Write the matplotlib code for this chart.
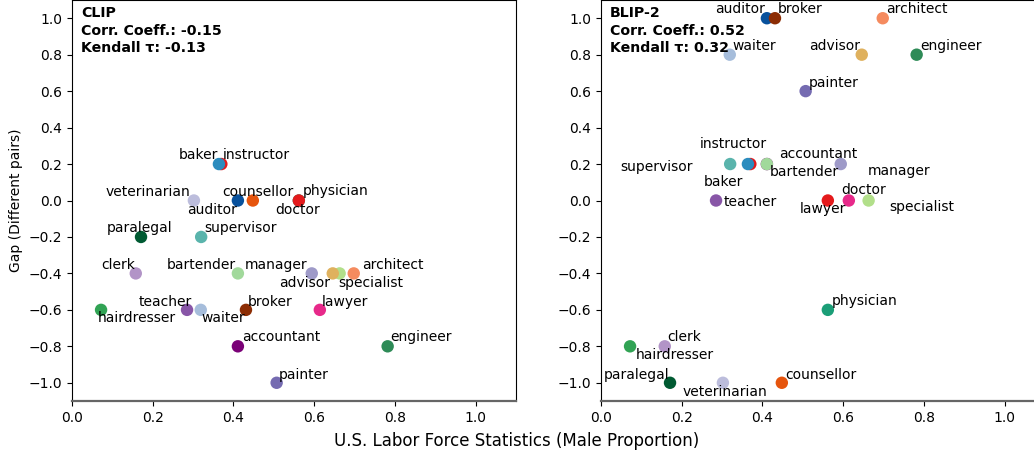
import numpy as np
import matplotlib
matplotlib.use("Agg")
import matplotlib.pyplot as plt

# occupations, drawn in this order (later ones sit on top)
jobs = ["physician", "doctor", "instructor", "baker", "accountant", "bartender",
        "auditor", "broker", "counsellor", "specialist", "advisor", "architect",
        "manager", "engineer", "waiter", "painter", "supervisor", "teacher",
        "clerk", "hairdresser", "paralegal", "veterinarian", "lawyer"]

# U.S. labor force statistics (male proportion)
male_prop = [0.562, 0.562, 0.370, 0.364, 0.411, 0.411,
             0.411, 0.431, 0.448, 0.663, 0.646, 0.698,
             0.594, 0.782, 0.319, 0.507, 0.320, 0.285,
             0.158, 0.072, 0.171, 0.302, 0.614]

# gap (different pairs)
gap_clip = [0.0, 0.0, 0.2, 0.2, -0.8, -0.4,
            0.0, -0.6, 0.0, -0.4, -0.4, -0.4,
            -0.4, -0.8, -0.6, -1.0, -0.2, -0.6,
            -0.4, -0.6, -0.2, 0.0, -0.6]
gap_blip2 = [-0.6, 0.0, 0.2, 0.2, 0.2, 0.2,
             1.0, 1.0, -1.0, 0.0, 0.8, 1.0,
             0.2, 0.8, 0.8, 0.6, 0.2, 0.0,
             -0.8, -0.8, -1.0, -1.0, 0.0]

colors = ["#1b9e77", "#e41a1c", "#e31a1c", "#2b8cbe", "#7a0177", "#a1d99b",
          "#08519c", "#8c2d04", "#e6550d", "#b2df8a", "#dfb15e", "#f58b5f",
          "#9e9ac8", "#2e8b57", "#a6bddb", "#756bb1", "#5ab4ac", "#8856a7",
          "#b294c7", "#31a354", "#005a32", "#bcbddc", "#e7298a"]

titles = ["CLIP\nCorr. Coeff.: -0.15\nKendall \u03c4: -0.13",
          "BLIP-2\nCorr. Coeff.: 0.52\nKendall \u03c4: 0.32"]

# label offsets in pixels (dx right, dy down) from each point
offs_clip = {"baker": (-20, -9), "instructor": (35, -9), "veterinarian": (-46, -8),
             "auditor": (-26, 10), "counsellor": (5, -9), "physician": (37, -9),
             "doctor": (-1, 10), "paralegal": (-1, -9), "supervisor": (39, -9),
             "clerk": (-18, -8), "bartender": (-37, -8), "manager": (-36, -8),
             "architect": (39, -8), "advisor": (-28, 10), "specialist": (31, 10),
             "teacher": (-22, -8), "hairdresser": (36, 8), "waiter": (22, 8),
             "broker": (24, -8), "lawyer": (25, -8), "accountant": (43, -9),
             "engineer": (33, -9), "painter": (27, -8)}
offs_blip = {"auditor": (-27, -9), "broker": (25, -9), "architect": (34, -9),
             "waiter": (24, -9), "advisor": (-27, -9), "engineer": (34, -9),
             "painter": (28, -8), "instructor": (-17, -20), "accountant": (51, -10),
             "supervisor": (-74, 3), "bartender": (37, 8), "manager": (58, 7),
             "baker": (-24, 18), "doctor": (36, -11), "teacher": (34, 1),
             "lawyer": (-26, 9), "specialist": (53, 7), "physician": (37, -9),
             "clerk": (19, -9), "hairdresser": (45, 9), "paralegal": (-33, -8),
             "veterinarian": (2, 9), "counsellor": (39, -8)}

fig = plt.figure(figsize=(10.34, 4.57), dpi=100)
W, H = 1034.0, 457.0
ax1 = fig.add_axes([72 / W, 56 / H, 444 / W, 401 / H])
ax2 = fig.add_axes([601 / W, 56 / H, 444 / W, 401 / H])

for ax, gap, title, offs in [(ax1, gap_clip, titles[0], offs_clip),
                             (ax2, gap_blip2, titles[1], offs_blip)]:
    ax.scatter(male_prop, gap, c=colors, s=80, linewidths=0, zorder=3)
    for name, x, y in zip(jobs, male_prop, gap):
        dx, dy = offs[name]
        ax.annotate(name, (x, y), xytext=(dx * 0.72, -dy * 0.72),
                    textcoords="offset points", ha="center", va="center",
                    fontsize=10, zorder=4)
    ax.text(0.02, 0.985, title, transform=ax.transAxes, ha="left", va="top",
            fontsize=10.2, fontweight="bold", linespacing=1.32, zorder=5)
    ax.set_xlim(0, 1.1)
    ax.set_ylim(-1.1, 1.1)
    ax.set_xticks(np.arange(0, 1.01, 0.2))
    ax.set_yticks(np.arange(-1.0, 1.01, 0.2))
    ax.spines["bottom"].set_color("#666666")
    ax.spines["bottom"].set_linewidth(1.6)

ax1.set_ylabel("Gap (Different pairs)", fontsize=10)
fig.text(0.5, 0.035, "U.S. Labor Force Statistics (Male Proportion)",
         ha="center", va="center", fontsize=12)

fig.savefig("out.png", dpi=100)
